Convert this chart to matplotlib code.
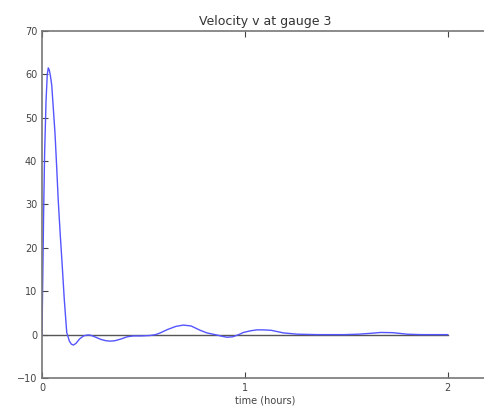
import matplotlib
matplotlib.use('Agg')
import matplotlib.pyplot as plt

# velocity v recorded at gauge 3
t_hours = [0.0, 0.004, 0.008, 0.013, 0.02, 0.026, 0.031, 0.036, 0.042, 0.048,
           0.056, 0.064, 0.072, 0.08, 0.09, 0.1, 0.11, 0.122, 0.135, 0.145,
           0.155, 0.168, 0.185, 0.205, 0.222, 0.237, 0.26, 0.29, 0.315, 0.336,
           0.36, 0.39, 0.42, 0.45, 0.49, 0.533, 0.56, 0.583, 0.62, 0.66,
           0.697, 0.735, 0.78, 0.813, 0.863, 0.89, 0.912, 0.94, 0.97, 0.993,
           1.03, 1.06, 1.09, 1.13, 1.19, 1.26, 1.356, 1.42, 1.49, 1.56,
           1.62, 1.67, 1.73, 1.8, 1.87, 1.94, 2.0]
v = [0.0, 14.0, 28.0, 42.0, 54.0, 60.0, 61.5, 61.0, 59.5, 57.5,
     52.0, 46.5, 39.0, 31.0, 23.0, 15.7, 8.0, 0.5, -1.5, -2.2,
     -2.4, -2.0, -1.0, -0.3, -0.1, -0.1, -0.5, -1.1, -1.4, -1.5,
     -1.4, -1.0, -0.5, -0.3, -0.3, -0.2, 0.0, 0.4, 1.2, 1.9,
     2.2, 2.0, 1.0, 0.4, -0.1, -0.4, -0.6, -0.5, 0.0, 0.5,
     0.9, 1.1, 1.1, 1.0, 0.4, 0.1, 0.0, 0.0, 0.0, 0.1,
     0.3, 0.5, 0.45, 0.1, 0.0, 0.0, 0.0]

zero_t = [0.0, 2.0]
zero_v = [0.0, 0.0]

fig = plt.figure(figsize=(4.85, 4.17), dpi=100, facecolor='white')
ax = fig.add_axes([0.0866, 0.0935, 0.92, 0.8322])

ax.plot(zero_t, zero_v, color='#555555', lw=1.0)
ax.plot(t_hours, v, color='#5555ff', lw=1.0)

ax.set_xlim(0, 2.2)
ax.set_ylim(-10, 70)
ax.set_xticks([0, 1, 2])
ax.set_yticks(range(-10, 71, 10))
ax.tick_params(direction='in', top=True, right=False, labelsize=7,
               colors='#444444', length=4, width=0.8)
for s in ax.spines.values():
    s.set_color('#777777')
    s.set_linewidth(1.2)
ax.spines['right'].set_visible(False)

ax.set_title('Velocity v at gauge 3', fontsize=9, color='#333333', pad=4)
ax.set_xlabel('time (hours)', fontsize=7, color='#444444', labelpad=2)

fig.savefig('out.png', dpi=100, facecolor='white')
